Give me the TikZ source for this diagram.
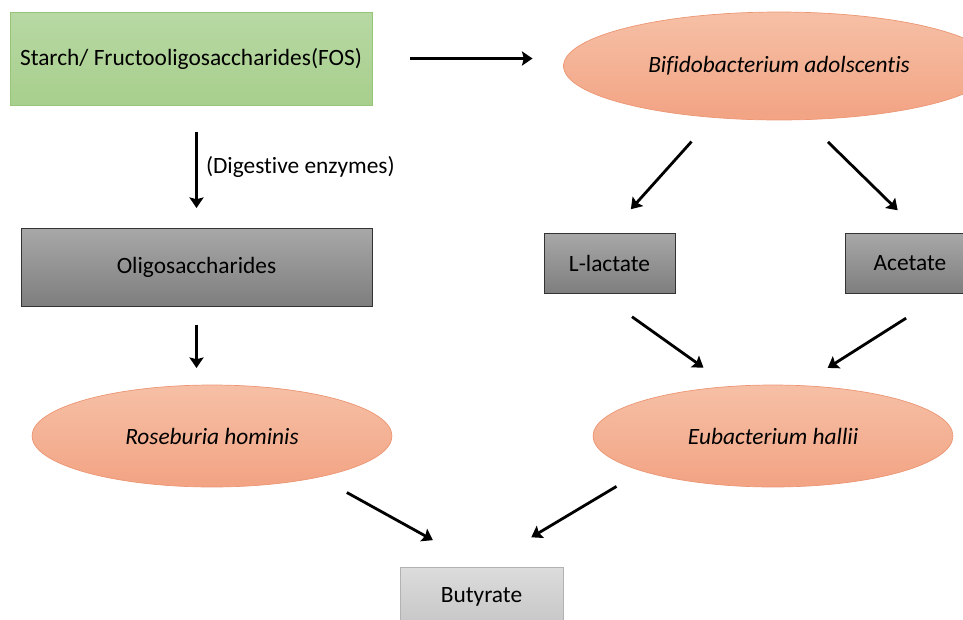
\documentclass[tikz,border=0pt]{standalone}
\usepackage{fontspec}
\setmainfont{Carlito}[Ligatures=NoCommon]
\usetikzlibrary{shapes.geometric,arrows.meta}
\definecolor{leafTop}{RGB}{183,216,163}
\definecolor{leafBot}{RGB}{168,207,141}
\definecolor{leafLine}{RGB}{150,196,120}
\definecolor{peachTop}{RGB}{246,192,166}
\definecolor{peachBot}{RGB}{242,163,131}
\definecolor{peachLine}{RGB}{236,150,115}
\definecolor{ashTop}{RGB}{168,168,168}
\definecolor{ashBot}{RGB}{126,126,126}
\definecolor{mistTop}{RGB}{220,220,220}
\definecolor{mistBot}{RGB}{198,198,198}
\begin{document}
\begin{tikzpicture}[x=0.02cm, y=-0.02cm,
  every node/.style = {font=\fontsize{13.3}{16}\selectfont, outer sep=0pt, inner sep=2pt},
  sugar/.style = {rectangle, draw=leafLine, top color=leafTop, bottom color=leafBot},
  acid/.style = {rectangle, draw=black!80, line width=0.5pt,
    top color=ashTop, bottom color=ashBot},
  product/.style = {rectangle, draw=black!30, top color=mistTop, bottom color=mistBot},
  microbe/.style = {ellipse, draw=peachLine, top color=peachTop, bottom color=peachBot,
    font=\fontsize{13.3}{16}\selectfont\itshape},
  flow/.style = {-{Stealth[length=6pt,width=8pt,inset=1pt]}, line width=1.6pt}]
  \useasboundingbox (0,0) rectangle (963,619);
  % substrates and products
  \node[sugar, minimum width=7.24cm, minimum height=1.86cm] (starch) at (191,58.5)
    {Starch/ Fructooligosaccharides(FOS)};
  \node[acid, minimum width=7.02cm, minimum height=1.56cm] (oligo) at (196.5,267)
    {Oligosaccharides};
  \node[acid, minimum width=2.62cm, minimum height=1.2cm] (lact) at (609.5,263) {L-lactate};
  \node[acid, minimum width=2.6cm, minimum height=1.2cm] (acet) at (910,263) {Acetate};
  \node[product, minimum width=3.26cm, minimum height=1.2cm] (buty) at (481.5,597) {Butyrate};
  % bacteria
  \node[microbe, minimum width=8.62cm, minimum height=2.16cm] (bifido) at (779,66)
    {Bifidobacterium adolscentis};
  \node[microbe, minimum width=7.2cm, minimum height=2.04cm] (rose) at (212,436)
    {Roseburia hominis};
  \node[microbe, minimum width=7.2cm, minimum height=2.04cm] (eubac) at (773,436)
    {Eubacterium hallii};
  % arrows
  \draw[flow, shorten <=0.76cm, shorten >=0.62cm] (starch.east) -- (starch.east -| bifido.west);
  \draw[flow, shorten <=0.54cm, shorten >=0.4cm] (starch.south -| oligo.north) -- (oligo.north)
    node[midway, right=0.12cm] {(Digestive enzymes)};
  \draw[flow, shorten <=0.38cm, shorten >=0.34cm] (oligo.south) -- (oligo.south |- rose.north);
  \draw[flow, shorten <=0.65cm, shorten >=0.64cm] (bifido.-142) -- (lact.north);
  \draw[flow, shorten <=0.64cm, shorten >=0.65cm] (bifido.-64) -- (acet.70);
  \draw[flow, shorten <=0.82cm, shorten >=0.65cm] (lact.-110) -- (eubac.131);
  \draw[flow, shorten <=0.94cm, shorten >=0.66cm] (acet.-40) -- (eubac.62);
  \draw[flow, shorten <=0.64cm, shorten >=1.11cm] (rose.-21) -- (buty.north);
  \draw[flow, shorten <=0.6cm, shorten >=1.16cm] (eubac.-165) -- (buty.north);
\end{tikzpicture}
\end{document}
